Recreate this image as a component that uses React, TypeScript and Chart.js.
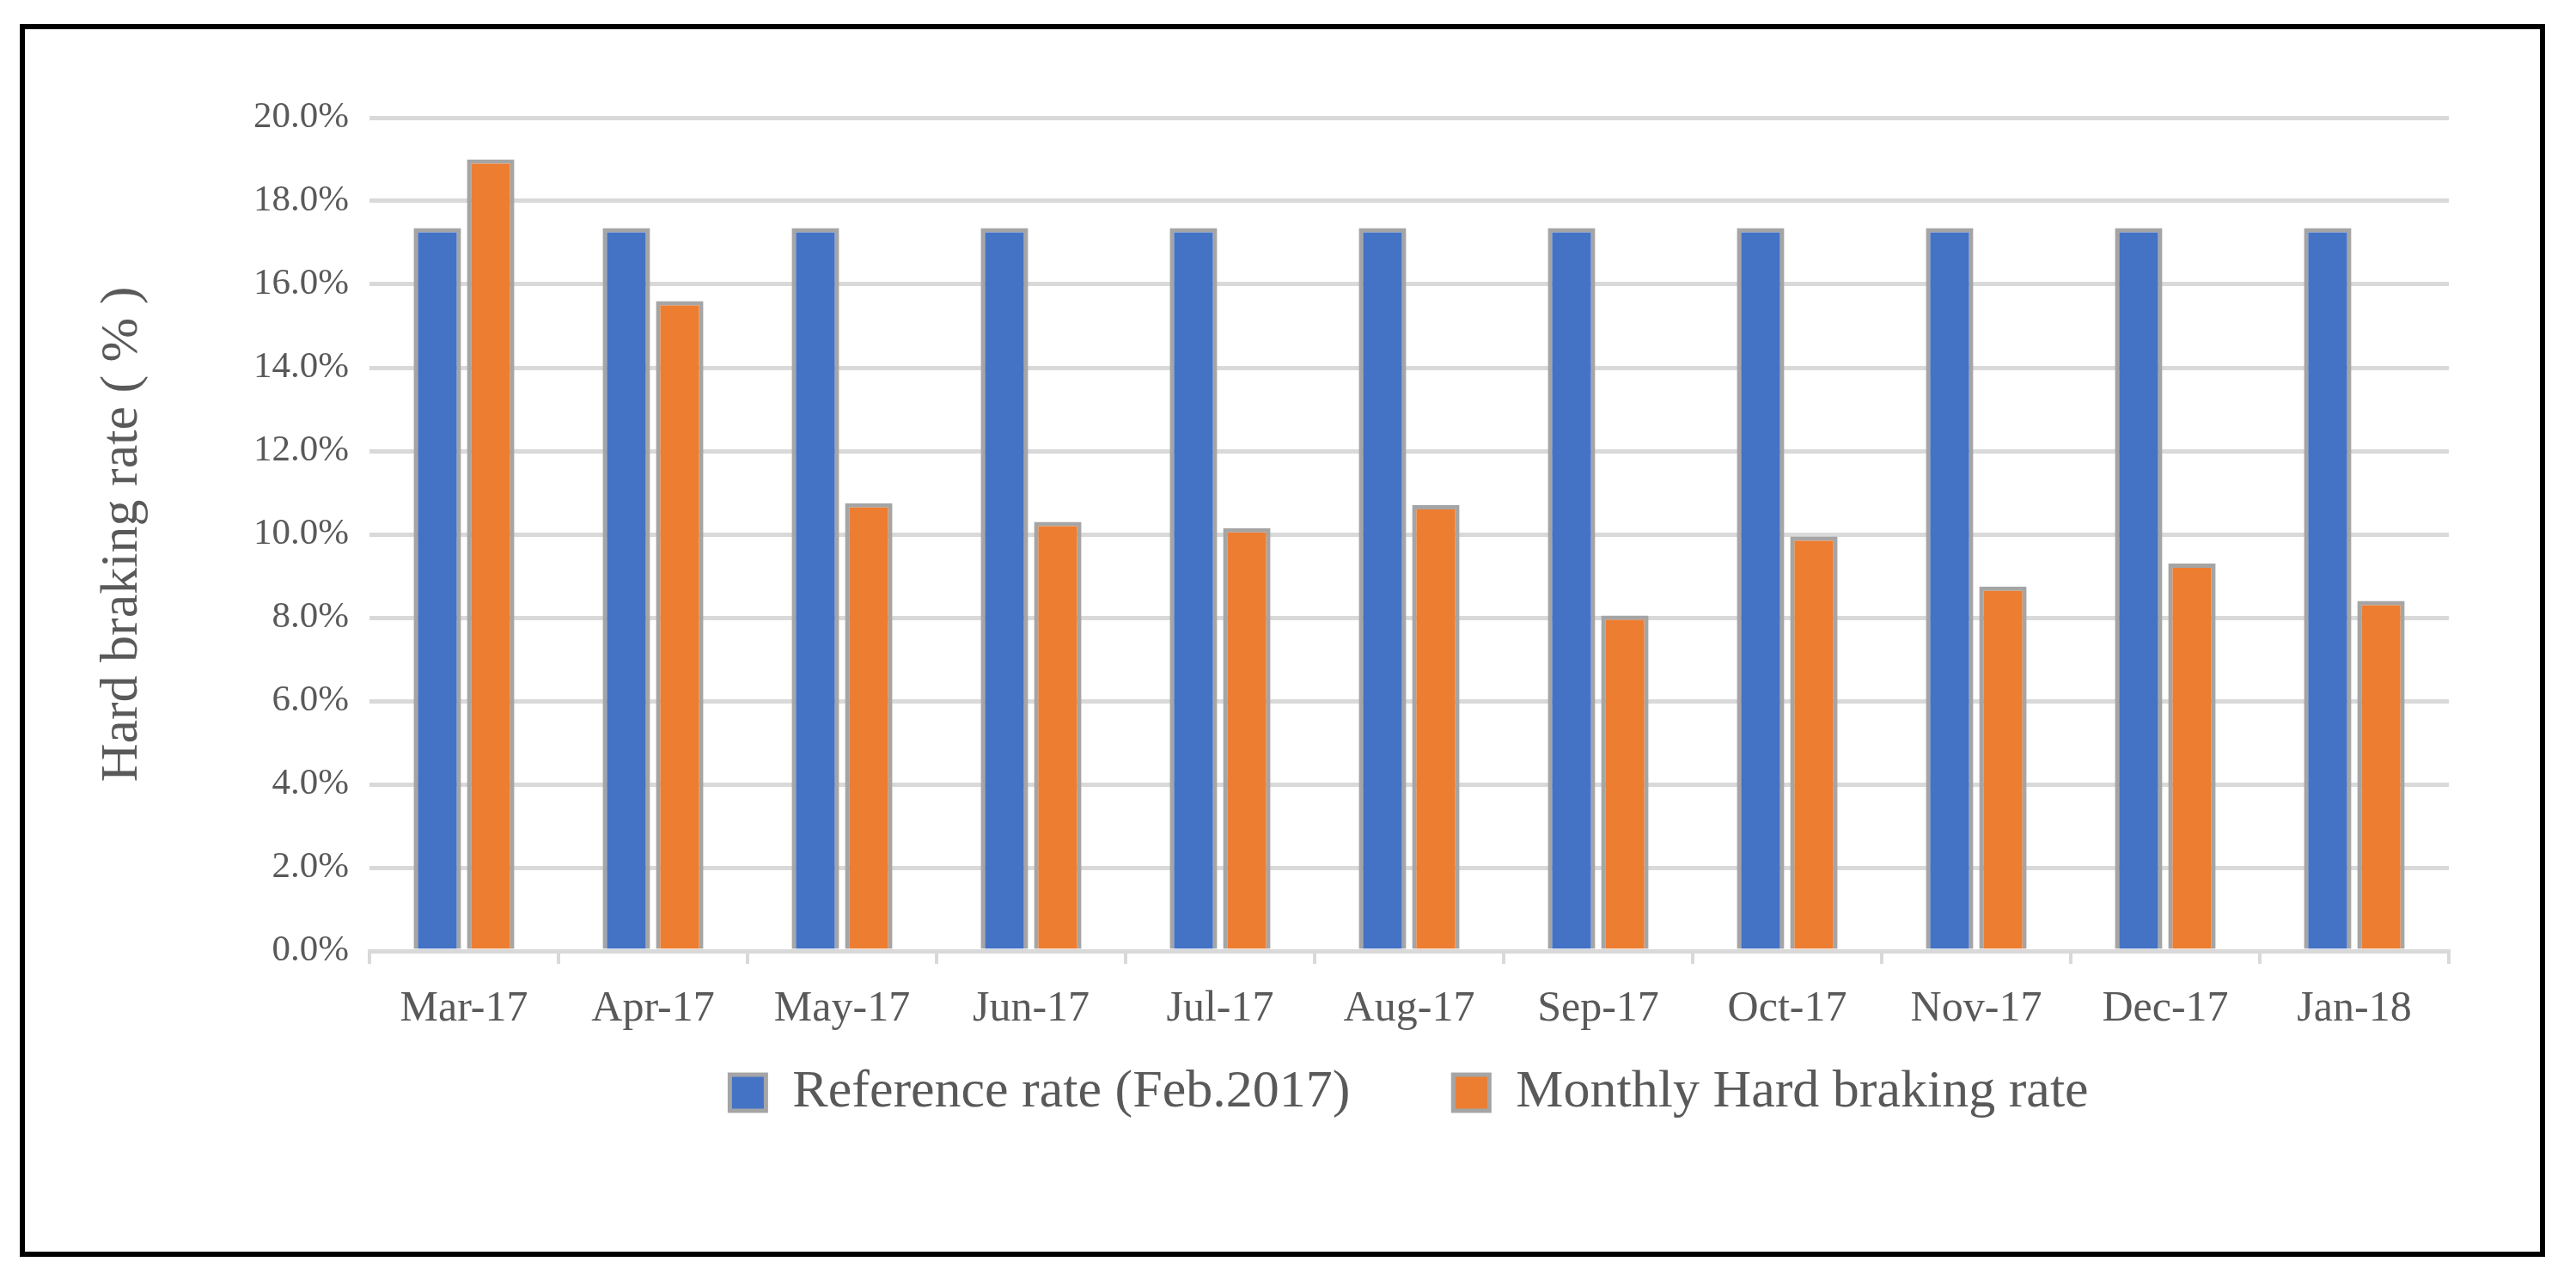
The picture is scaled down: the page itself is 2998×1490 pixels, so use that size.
import React, { useEffect, useRef } from "react";
import { Chart, registerables } from "chart.js";

Chart.register(...registerables);

// ---- data ----
const categories = [
  "Mar-17", "Apr-17", "May-17", "Jun-17", "Jul-17", "Aug-17",
  "Sep-17", "Oct-17", "Nov-17", "Dec-17", "Jan-18",
];
const seriesNames = ["Reference rate (Feb.2017)", "Monthly Hard braking rate"];
const referenceRate = [17.35, 17.35, 17.35, 17.35, 17.35, 17.35, 17.35, 17.35, 17.35, 17.35, 17.35];
const monthlyRate = [19.0, 15.6, 10.75, 10.3, 10.15, 10.7, 8.05, 9.95, 8.75, 9.3, 8.4];
const yTickValues = [0, 2, 4, 6, 8, 10, 12, 14, 16, 18, 20];
const yTitle = "Hard braking rate ( % )";

// ---- style ----
const FONT = "'Liberation Serif', 'Times New Roman', serif";
const TEXT = "#595959";
const GRID = "#D9D9D9";
const BORDER = "#A5A5A5";
const LEGEND_FONT = 62;
const LEGEND_PAD = 120;
const LEGEND_CENTER_Y = 1238; // canvas px, vertical centre of the legend row

const legendPlacement = {
  id: "legendPlacement",
  afterLayout(chart: any) {
    const lg = chart.legend;
    if (!lg) return;
    const h = lg.height;
    lg.top = LEGEND_CENTER_Y - LEGEND_PAD - LEGEND_FONT / 2;
    lg.bottom = lg.top + h;
  },
};

export default function App() {
  const ref = useRef<HTMLCanvasElement>(null);

  useEffect(() => {
    const canvas = ref.current;
    if (!canvas) return;
    const chart = new Chart(canvas, {
      type: "bar",
      data: {
        labels: categories,
        datasets: [
          {
            label: seriesNames[0],
            data: referenceRate,
            backgroundColor: "#4472C4",
            borderColor: BORDER,
            borderWidth: 5,
            barPercentage: 0.89,
            categoryPercentage: 0.564,
          },
          {
            label: seriesNames[1],
            data: monthlyRate,
            backgroundColor: "#ED7D31",
            borderColor: BORDER,
            borderWidth: 5,
            barPercentage: 0.89,
            categoryPercentage: 0.564,
          },
        ],
      },
      plugins: [legendPlacement],
      options: {
        responsive: false,
        devicePixelRatio: 1,
        animation: false,
        layout: { padding: { top: 103, right: 106, left: 0, bottom: 37 } },
        plugins: {
          tooltip: { enabled: false },
          legend: {
            position: "bottom",
            fullSize: false,
            labels: {
              font: { family: FONT, size: LEGEND_FONT },
              color: TEXT,
              boxWidth: 42,
              boxHeight: 42,
              padding: LEGEND_PAD,
            },
          },
        },
        scales: {
          x: {
            grid: {
              display: true,
              drawOnChartArea: false,
              drawTicks: true,
              tickLength: 15,
              color: GRID,
              lineWidth: 4,
              offset: true,
            },
            border: { display: true, color: GRID, width: 5, z: 1 },
            ticks: {
              font: { family: FONT, size: 50 },
              color: TEXT,
              padding: 23,
              maxRotation: 0,
              autoSkip: false,
            },
          },
          y: {
            min: 0,
            max: 20,
            afterBuildTicks: (scale: any) => {
              scale.ticks = yTickValues.map((v) => ({ value: v }));
            },
            grid: { color: GRID, lineWidth: 5, drawTicks: false },
            border: { display: false },
            ticks: {
              font: { family: FONT, size: 43 },
              color: TEXT,
              padding: 24,
              callback: (v: any) => Number(v).toFixed(1) + "%",
            },
            title: {
              display: true,
              text: yTitle,
              font: { family: FONT, size: 62 },
              color: TEXT,
              padding: { top: 77, bottom: 0 },
            },
            afterFit: (scale: any) => {
              scale.width = 401;
            },
          },
        },
      },
    });
    return () => chart.destroy();
  }, []);

  return (
    <div style={{ position: "absolute", left: 0, top: 0, width: 2998, height: 1490, background: "#fff" }}>
      <div
        style={{
          position: "absolute",
          left: 23,
          top: 28,
          width: 2939,
          height: 1435,
          border: "6px solid #000",
          boxSizing: "border-box",
        }}
      />
      <canvas
        ref={ref}
        width={2927}
        height={1423}
        style={{ position: "absolute", left: 29, top: 34, width: 2927, height: 1423 }}
      />
    </div>
  );
}
